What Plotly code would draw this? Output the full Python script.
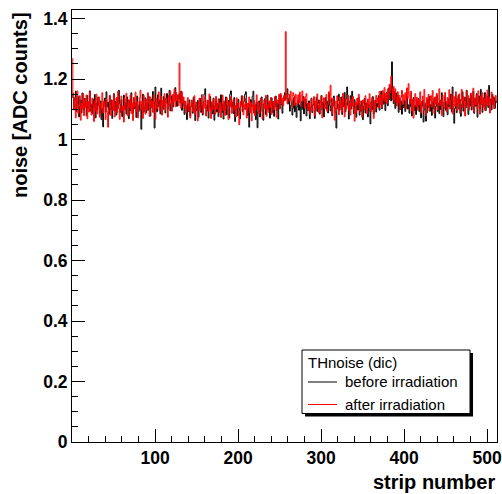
import plotly.graph_objects as go

# ---- data: noise per strip (ADC counts) ----
before_000_127 = [
    1.152, 1.138, 1.101, 1.127, 1.160, 1.093, 1.118, 1.142, 1.075, 1.109, 1.131, 1.088, 1.154, 1.120, 1.097, 1.136,
    1.112, 1.079, 1.146, 1.103, 1.125, 1.161, 1.094, 1.117, 1.085, 1.133, 1.106, 1.149, 1.072, 1.121, 1.098, 1.140,
    1.115, 1.087, 1.128, 1.066, 1.102, 1.042, 1.119, 1.137, 1.091, 1.158, 1.108, 1.124, 1.083, 1.145, 1.099, 1.131,
    1.070, 1.113, 1.152, 1.095, 1.126, 1.081, 1.139, 1.104, 1.163, 1.118, 1.090, 1.132, 1.076, 1.110, 1.147, 1.100,
    1.123, 1.084, 1.141, 1.107, 1.069, 1.129, 1.096, 1.155, 1.114, 1.088, 1.136, 1.102, 1.120, 1.073, 1.144, 1.111,
    1.093, 1.127, 1.100, 1.034, 1.118, 1.150, 1.091, 1.106, 1.138, 1.089, 1.121, 1.097, 1.143, 1.112, 1.078, 1.134,
    1.105, 1.159, 1.124, 1.038, 1.174, 1.116, 1.092, 1.148, 1.109, 1.131, 1.085, 1.170, 1.120, 1.099, 1.142, 1.113,
    1.088, 1.137, 1.152, 1.101, 1.126, 1.163, 1.095, 1.119, 1.145, 1.107, 1.132, 1.156, 1.172, 1.128, 1.110, 1.146,
]
before_128_255 = [
    1.134, 1.152, 1.121, 1.160, 1.097, 1.139, 1.115, 1.083, 1.127, 1.104, 1.066, 1.118, 1.093, 1.131, 1.078, 1.109,
    1.122, 1.087, 1.140, 1.101, 1.063, 1.115, 1.096, 1.129, 1.074, 1.108, 1.136, 1.090, 1.117, 1.081, 1.125, 1.151,
    1.168, 1.112, 1.094, 1.130, 1.071, 1.106, 1.143, 1.099, 1.120, 1.085, 1.137, 1.064, 1.110, 1.128, 1.091, 1.119,
    1.076, 1.134, 1.103, 1.148, 1.089, 1.116, 1.068, 1.125, 1.097, 1.141, 1.082, 1.113, 1.129, 1.072, 1.150, 1.161,
    1.107, 1.124, 1.086, 1.139, 1.060, 1.098, 1.121, 1.079, 1.133, 1.104, 1.069, 1.117, 1.145, 1.093, 1.112, 1.127,
    1.150, 1.158, 1.101, 1.080, 1.119, 1.041, 1.095, 1.132, 1.108, 1.143, 1.160, 1.087, 1.113, 1.066, 1.124, 1.039,
    1.092, 1.128, 1.075, 1.110, 1.141, 1.097, 1.064, 1.118, 1.135, 1.083, 1.106, 1.147, 1.099, 1.122, 1.071, 1.114,
    1.138, 1.090, 1.126, 1.077, 1.109, 1.144, 1.096, 1.121, 1.068, 1.131, 1.105, 1.148, 1.116, 1.087, 1.129, 1.142,
]
before_256_383 = [
    1.155, 1.132, 1.150, 1.168, 1.118, 1.136, 1.094, 1.112, 1.127, 1.081, 1.104, 1.139, 1.092, 1.120, 1.073, 1.108,
    1.131, 1.097, 1.115, 1.062, 1.126, 1.100, 1.143, 1.085, 1.111, 1.134, 1.078, 1.119, 1.096, 1.128, 1.069, 1.106,
    1.137, 1.089, 1.114, 1.125, 1.070, 1.102, 1.140, 1.093, 1.119, 1.131, 1.084, 1.110, 1.146, 1.098, 1.123, 1.075,
    1.116, 1.139, 1.101, 1.127, 1.088, 1.153, 1.112, 1.095, 1.134, 1.079, 1.121, 1.144, 1.106, 1.090, 1.038, 1.102,
    1.129, 1.150, 1.097, 1.118, 1.141, 1.083, 1.124, 1.109, 1.156, 1.092, 1.135, 1.174, 1.113, 1.068, 1.127, 1.145,
    1.101, 1.160, 1.119, 1.086, 1.132, 1.107, 1.074, 1.122, 1.098, 1.139, 1.081, 1.115, 1.093, 1.128, 1.066, 1.110,
    1.136, 1.088, 1.121, 1.104, 1.075, 1.117, 1.095, 1.052, 1.126, 1.099, 1.142, 1.084, 1.113, 1.130, 1.091, 1.120,
    1.108, 1.145, 1.097, 1.127, 1.160, 1.102, 1.138, 1.117, 1.152, 1.096, 1.141, 1.157, 1.112, 1.170, 1.133, 1.178,
]
before_384_511 = [
    1.128, 1.257, 1.168, 1.119, 1.159, 1.103, 1.154, 1.122, 1.147, 1.090, 1.136, 1.099, 1.128, 1.084, 1.118, 1.106,
    1.131, 1.093, 1.124, 1.142, 1.101, 1.115, 1.087, 1.133, 1.109, 1.078, 1.121, 1.139, 1.096, 1.114, 1.083, 1.127,
    1.105, 1.136, 1.092, 1.118, 1.072, 1.111, 1.129, 1.058, 1.097, 1.120, 1.061, 1.088, 1.132, 1.107, 1.143, 1.094,
    1.116, 1.080, 1.125, 1.102, 1.138, 1.071, 1.110, 1.147, 1.093, 1.121, 1.086, 1.130, 1.099, 1.155, 1.113, 1.076,
    1.124, 1.141, 1.097, 1.119, 1.082, 1.135, 1.108, 1.128, 1.150, 1.092, 1.174, 1.116, 1.054, 1.103, 1.137, 1.089,
    1.121, 1.146, 1.100, 1.132, 1.077, 1.115, 1.158, 1.094, 1.127, 1.140, 1.105, 1.163, 1.118, 1.083, 1.136, 1.111,
    1.149, 1.098, 1.125, 1.160, 1.087, 1.133, 1.110, 1.152, 1.074, 1.121, 1.144, 1.101, 1.166, 1.117, 1.090, 1.138,
    1.112, 1.155, 1.096, 1.127, 1.143, 1.106, 1.179, 1.121, 1.134, 1.098, 1.150, 1.116, 1.139, 1.103, 1.128, 1.122,
]

after_000_127 = [
    1.268, 1.154, 1.098, 1.139, 1.072, 1.126, 1.161, 1.087, 1.113, 1.145, 1.064, 1.120, 1.101, 1.152, 1.079, 1.133,
    1.106, 1.147, 1.069, 1.124, 1.091, 1.158, 1.103, 1.081, 1.137, 1.117, 1.060, 1.129, 1.095, 1.150, 1.085, 1.112,
    1.141, 1.074, 1.119, 1.099, 1.155, 1.088, 1.127, 1.108, 1.066, 1.134, 1.092, 1.041, 1.104, 1.146, 1.080, 1.118,
    1.130, 1.097, 1.149, 1.075, 1.116, 1.138, 1.089, 1.160, 1.102, 1.067, 1.123, 1.144, 1.094, 1.111, 1.058, 1.135,
    1.099, 1.153, 1.118, 1.078, 1.132, 1.106, 1.148, 1.086, 1.121, 1.063, 1.140, 1.109, 1.157, 1.093, 1.126, 1.072,
    1.115, 1.138, 1.163, 1.100, 1.127, 1.070, 1.146, 1.111, 1.084, 1.132, 1.098, 1.155, 1.119, 1.076, 1.141, 1.105,
    1.128, 1.090, 1.149, 1.114, 1.067, 1.136, 1.102, 1.124, 1.158, 1.095, 1.117, 1.143, 1.081, 1.130, 1.108, 1.152,
    1.099, 1.137, 1.120, 1.074, 1.145, 1.112, 1.160, 1.131, 1.094, 1.149, 1.123, 1.167, 1.109, 1.156, 1.128, 1.148,
]
after_128_255 = [
    1.112, 1.253, 1.151, 1.103, 1.158, 1.120, 1.141, 1.102, 1.126, 1.088, 1.113, 1.139, 1.097, 1.121, 1.071, 1.109,
    1.131, 1.092, 1.116, 1.145, 1.083, 1.124, 1.101, 1.062, 1.118, 1.137, 1.095, 1.110, 1.149, 1.087, 1.123, 1.104,
    1.140, 1.078, 1.115, 1.129, 1.093, 1.151, 1.106, 1.070, 1.125, 1.098, 1.134, 1.112, 1.084, 1.143, 1.101, 1.119,
    1.135, 1.090, 1.122, 1.073, 1.109, 1.147, 1.096, 1.128, 1.080, 1.117, 1.139, 1.100, 1.066, 1.126, 1.108, 1.142,
    1.087, 1.119, 1.132, 1.097, 1.113, 1.075, 1.138, 1.104, 1.121, 1.049, 1.093, 1.127, 1.110, 1.144, 1.082, 1.116,
    1.099, 1.135, 1.071, 1.120, 1.106, 1.141, 1.088, 1.124, 1.062, 1.113, 1.097, 1.130, 1.079, 1.118, 1.148, 1.101,
    1.123, 1.085, 1.110, 1.137, 1.094, 1.068, 1.119, 1.131, 1.102, 1.146, 1.077, 1.115, 1.090, 1.128, 1.105, 1.139,
    1.083, 1.117, 1.126, 1.098, 1.142, 1.109, 1.074, 1.131, 1.119, 1.150, 1.101, 1.153, 1.124, 1.137, 1.112, 1.146,
]
after_256_383 = [
    1.128, 1.357, 1.142, 1.118, 1.151, 1.149, 1.127, 1.160, 1.132, 1.106, 1.155, 1.145, 1.113, 1.150, 1.139, 1.118,
    1.148, 1.121, 1.157, 1.110, 1.146, 1.161, 1.128, 1.140, 1.104, 1.143, 1.152, 1.117, 1.098, 1.121, 1.084, 1.110,
    1.134, 1.095, 1.117, 1.142, 1.078, 1.126, 1.103, 1.151, 1.114, 1.089, 1.130, 1.107, 1.144, 1.072, 1.120, 1.138,
    1.101, 1.125, 1.149, 1.093, 1.116, 1.158, 1.132, 1.180, 1.121, 1.086, 1.137, 1.111, 1.064, 1.127, 1.099, 1.145,
    1.118, 1.082, 1.140, 1.106, 1.129, 1.091, 1.153, 1.113, 1.075, 1.136, 1.102, 1.124, 1.147, 1.096, 1.119, 1.081,
    1.133, 1.110, 1.143, 1.098, 1.061, 1.122, 1.089, 1.137, 1.115, 1.150, 1.094, 1.127, 1.108, 1.074, 1.131, 1.117,
    1.099, 1.145, 1.122, 1.085, 1.134, 1.106, 1.152, 1.118, 1.092, 1.139, 1.111, 1.070, 1.128, 1.100, 1.146, 1.123,
    1.137, 1.104, 1.159, 1.116, 1.148, 1.106, 1.162, 1.130, 1.172, 1.125, 1.154, 1.119, 1.167, 1.135, 1.183, 1.156,
]
after_384_511 = [
    1.209, 1.168, 1.132, 1.176, 1.123, 1.168, 1.140, 1.111, 1.158, 1.122, 1.146, 1.100, 1.139, 1.163, 1.117, 1.148,
    1.129, 1.155, 1.102, 1.171, 1.136, 1.185, 1.147, 1.119, 1.160, 1.094, 1.133, 1.071, 1.125, 1.152, 1.108, 1.140,
    1.097, 1.132, 1.115, 1.158, 1.088, 1.126, 1.144, 1.103, 1.166, 1.121, 1.079, 1.139, 1.112, 1.150, 1.094, 1.128,
    1.145, 1.108, 1.162, 1.124, 1.086, 1.141, 1.117, 1.153, 1.099, 1.134, 1.168, 1.113, 1.130, 1.080, 1.147, 1.121,
    1.104, 1.156, 1.127, 1.092, 1.139, 1.118, 1.165, 1.101, 1.131, 1.149, 1.085, 1.123, 1.142, 1.110, 1.158, 1.096,
    1.135, 1.119, 1.151, 1.087, 1.128, 1.166, 1.106, 1.143, 1.124, 1.078, 1.137, 1.160, 1.113, 1.145, 1.098, 1.132,
    1.154, 1.109, 1.126, 1.170, 1.091, 1.138, 1.116, 1.148, 1.102, 1.161, 1.127, 1.084, 1.144, 1.119, 1.155, 1.107,
    1.136, 1.097, 1.149, 1.122, 1.164, 1.111, 1.140, 1.088, 1.131, 1.157, 1.115, 1.143, 1.102, 1.128, 1.146, 1.125,
]

x_ticks = [100, 200, 300, 400, 500]
y_ticks = [0, 0.2, 0.4, 0.6, 0.8, 1.0, 1.2, 1.4]
y_tick_labels = ["0", "0.2", "0.4", "0.6", "0.8", "1", "1.2", "1.4"]
legend_title = "THnoise (dic)"
series_names = ["before irradiation", "after irradiation"]
series_colors = ["black", "#ff0000"]
x_title = "strip number"
y_title = "noise [ADC counts]"

before = before_000_127 + before_128_255 + before_256_383 + before_384_511
after = after_000_127 + after_128_255 + after_256_383 + after_384_511
strips = [i + 0.5 for i in range(len(before))]

FONT = "Liberation Sans, Arial, Helvetica, sans-serif"
W, H = 502, 494
ML, MR, MT, MB = 72, 5, 10, 52
PW, PH = W - ML - MR, H - MT - MB


def px(x):  # page pixel -> paper x
    return (x - ML) / PW


def py(y):  # page pixel -> paper y
    return (H - MB - y) / PH


fig = go.Figure()
for name, vals, col in zip(series_names, [before, after], series_colors):
    fig.add_trace(go.Scatter(x=strips, y=vals, mode="lines", name=name, hoverinfo="skip",
                             line=dict(color=col, width=1, shape="hvh")))

axis_common = dict(
    showgrid=False, zeroline=False, showline=True, linecolor="black", linewidth=1,
    mirror=True, ticks="inside", ticklen=13, tickwidth=1, tickcolor="black",
    automargin=False, ticklabeloverflow="allow",
    tickfont=dict(family=FONT, size=17.5, color="black", weight="bold"),
)
fig.update_xaxes(range=[0, 512], tickmode="array", tickvals=x_ticks,
                 minor=dict(ticks="inside", ticklen=6, dtick=20, tick0=0, tickcolor="black"),
                 **axis_common)
fig.update_yaxes(range=[0, 1.4285], tickmode="array", tickvals=y_ticks, ticktext=y_tick_labels,
                 minor=dict(ticks="inside", ticklen=6, dtick=0.05, tick0=0, tickcolor="black"),
                 **axis_common)

# legend box (ROOT-style, with shadow) drawn in page pixels
lx0, lx1, ly0, ly1 = 302, 470, 350, 413.5
shapes = [
    dict(type="rect", xref="paper", yref="paper", x0=px(lx0 + 3), x1=px(lx1 + 3),
         y0=py(ly0 + 3), y1=py(ly1 + 3), fillcolor="black", line=dict(width=0), layer="above"),
    dict(type="rect", xref="paper", yref="paper", x0=px(lx0), x1=px(lx1),
         y0=py(ly0), y1=py(ly1), fillcolor="white", line=dict(color="black", width=1), layer="above"),
]
annotations = [
    dict(text=legend_title, xref="paper", yref="paper", x=px(306), y=py(362),
         xanchor="left", yanchor="middle", showarrow=False,
         font=dict(family=FONT, size=15, color="black")),
]
for i, (name, col) in enumerate(zip(series_names, series_colors)):
    yy = [382, 404.5][i]
    shapes.append(dict(type="line", xref="paper", yref="paper", x0=px(308), x1=px(337),
                       y0=py(yy), y1=py(yy), line=dict(color=col, width=1), layer="above"))
    annotations.append(dict(text=name, xref="paper", yref="paper", x=px(343), y=py(yy - 0.5),
                            xanchor="left", yanchor="middle", showarrow=False,
                            font=dict(family=FONT, size=15, color="black")))

annotations += [
    dict(text=x_title, xref="paper", yref="paper", x=1.0, y=py(482),
         xanchor="right", yanchor="middle", showarrow=False,
         font=dict(family=FONT, size=20, color="black", weight="bold")),
    dict(text=y_title, xref="paper", yref="paper", x=px(20), y=1.0,
         xanchor="center", yanchor="top", textangle=-90, showarrow=False,
         font=dict(family=FONT, size=20, color="black", weight="bold")),
]

fig.update_layout(
    width=W, height=H,
    margin=dict(l=ML, r=MR, t=MT, b=MB, autoexpand=False),
    paper_bgcolor="white", plot_bgcolor="white",
    font=dict(family=FONT, color="black"),
    showlegend=False,
    hovermode=False,
    shapes=shapes,
    annotations=annotations,
)

fig.write_html("out.html", config={"displayModeBar": False},
               post_script="document.body.style.margin='0';")
